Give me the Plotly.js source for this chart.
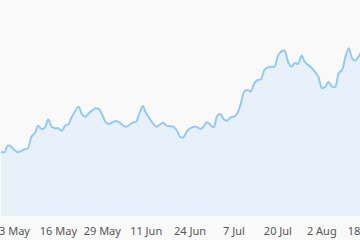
<!DOCTYPE html>
<html>
<head>
<meta charset="utf-8">
<script src="https://cdn.plot.ly/plotly-3.0.1.min.js"></script>
<style>
html,body{margin:0;padding:0;background:#f9f9f9;overflow:hidden;width:360px;height:240px;}
#chart{width:400px;height:240px;}
</style>
</head>
<body>
<div id="chart"></div>
<script>
// days since 3 May
const days = [-4,-3,-2,-1,0,1,3,4,5,6,7,8,9,10,11,12,13,14,15,16,17,19,20,21,22,24,25,26,27,28,30,31,33,35,36,37,38,39,41,42,44,45,47,48,49,50,51,52,54,55,56,57,59,60,61,62,63,64,65,66,67,68,69,70,71,72,73,74,75,76,77,78,79,80,81,82,83,84,85,86,87,88,89,90,91,92,93,94,95,96,97,98,99,100,101,102,103];
const values = [64.3,63.7,70.3,69.3,66,63.7,66.7,67.7,79.3,82.7,90.3,87,88.3,96.7,89.3,87.7,87.7,85,90.3,91.7,99.3,109.3,101.7,99.3,102.7,107.7,107,101,93.7,92,95,93.7,89.3,93.3,94.3,102.7,110,102.7,92.7,89.3,93.3,90.3,89.3,86,79.3,78.7,84.3,87.7,89.3,87,89.3,93.7,88.7,100,102,96.7,95.3,98.7,99.3,102.7,112,124.3,126,124.5,132.7,136,136.7,146,148.7,149.3,149.3,160,164.3,165.3,154.3,149.3,153,152,160.5,154,151,148,144,139,128,129,134.3,129.3,129.3,142.7,146,159,167.7,157.5,155.5,160,166];
const tickDays = [0,13,26,39,52,65,78,91,104];
const tickLabels = ["3 May","16 May","29 May","11 Jun","24 Jun","7 Jul","20 Jul","2 Aug","18 Aug"];

Plotly.newPlot('chart', [{
  x: days, y: values, type: 'scatter', mode: 'lines',
  line: {color: '#90caf9', width: 2, shape: 'spline', smoothing: 0.8},
  fill: 'tozeroy', fillcolor: 'rgba(144,202,249,0.16)',
  hoverinfo: 'none'
}], {
  width: 400, height: 240,
  margin: {l: 0, r: 0, t: 0, b: 24, pad: 0},
  paper_bgcolor: '#f9f9f9', plot_bgcolor: '#f9f9f9',
  showlegend: false,
  xaxis: {
    range: [-4.29, 114.16], showgrid: false, zeroline: false, showline: false,
    ticks: 'outside', ticklen: 5, tickcolor: 'rgba(0,0,0,0)',
    tickmode: 'array', tickvals: tickDays, ticktext: tickLabels,
    ticklabeloverflow: 'allow',
    tickfont: {family: 'Noto Sans, sans-serif', size: 11, color: '#555555'}
  },
  yaxis: {range: [0, 216], visible: false, showgrid: false, zeroline: false}
}, {staticPlot: true});
</script>
</body>
</html>
